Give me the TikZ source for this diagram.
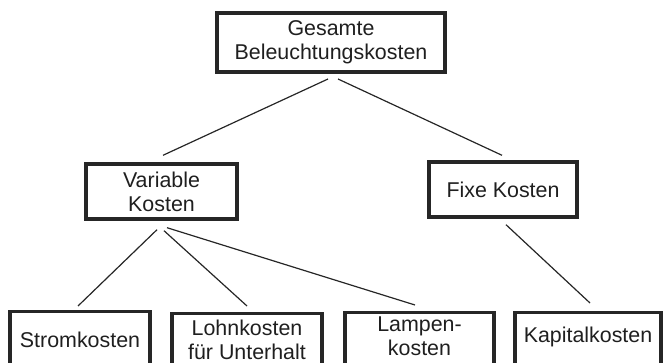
\documentclass[tikz,border=0pt]{standalone}
\usepackage{fontspec}
\setmainfont{Liberation Sans}
\begin{document}
\begin{tikzpicture}[x=1pt,y=-1pt,
  every node/.style={font=\fontsize{21.4}{24}\selectfont, align=center, inner sep=0pt, text=black!88},
  frame/.style={draw=black!85, line width=3.4pt, rectangle},
  topframe/.style={draw=black!85, line width=4pt, rectangle},
  lowframe/.style={draw=black!85, line width=3.4pt, rectangle, anchor=north, minimum height=70pt},
  conn/.style={draw=black!85, line width=1.2pt}]
\useasboundingbox (0,0) rectangle (663,363);
\clip (0,0) rectangle (663,363);
% upper boxes
\node[topframe, minimum width=228pt, minimum height=59pt] (top) at (331,42.5) {Gesamte\\Beleuchtungskosten};
\node[frame, minimum width=151pt, minimum height=55pt] (var) at (161.5,191.5) {Variable\\Kosten};
\node[frame, minimum width=148pt, minimum height=55pt] (fix) at (503,189.5) {Fixe Kosten};
% lower boxes (cut off by the lower edge)
\node[lowframe, minimum width=140pt] (strom) at (80,310) {};
\node[lowframe, minimum width=150pt] (lohn) at (247,312) {};
\node[lowframe, minimum width=149pt] (lampen) at (419.5,311) {};
\node[lowframe, minimum width=146pt] (kap) at (588,311) {};
\node (stromt) at (80,340) {Stromkosten};
\node (lohnt) at (247,340) {Lohnkosten\\für Unterhalt};
\node (lampent) at (419.5,336) {Lampen-\\kosten};
\node (kapt) at (588,337) {Kapitalkosten};
% connectors
\draw[conn] ([shift={(-3,5)}]top.south) -- ([shift={(1.5,-7)}]var.north);
\draw[conn] ([shift={(7,5)}]top.south) -- ([shift={(-1,-5)}]fix.north);
\draw[conn] ([shift={(-4.5,9)}]var.south) -- ([shift={(-2,-4)}]strom.north);
\draw[conn] ([shift={(2.5,10)}]var.south) -- ([shift={(0,-6)}]lohn.north);
\draw[conn] ([shift={(5.5,7)}]var.south) -- ([shift={(-4.5,-6)}]lampen.north);
\draw[conn] ([shift={(3,6)}]fix.south) -- ([shift={(2,-8)}]kap.north);
\end{tikzpicture}
\end{document}
